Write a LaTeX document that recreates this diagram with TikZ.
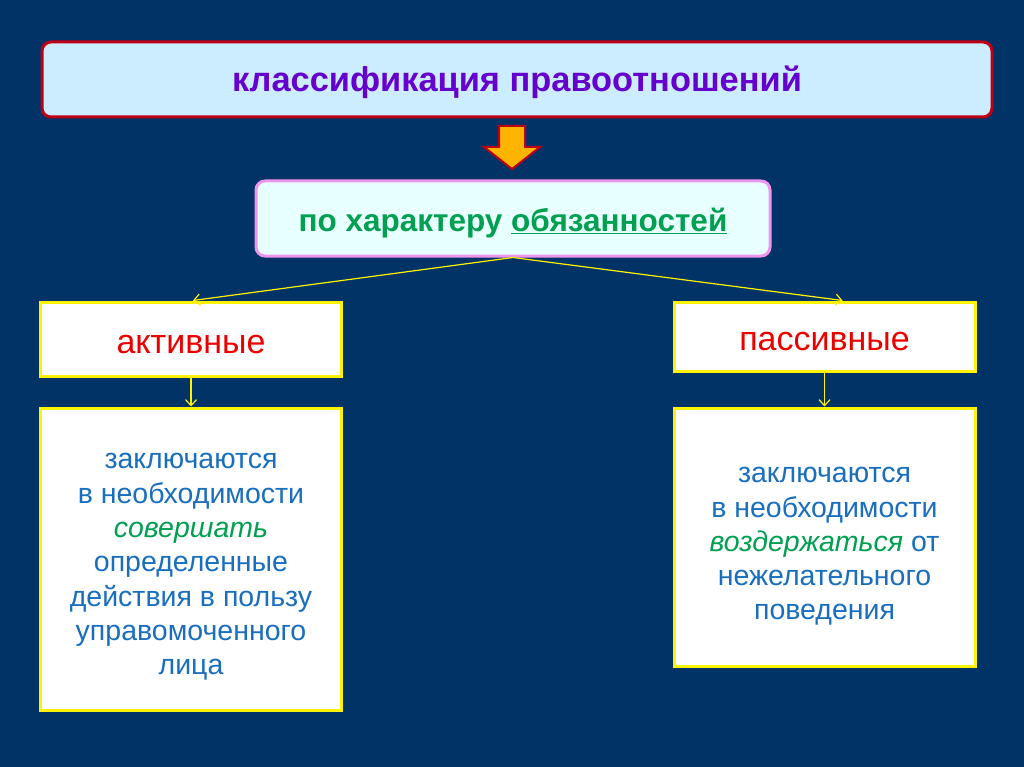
\documentclass[tikz,border=0pt]{standalone}
\usepackage{fontspec}
\setmainfont{Liberation Sans}
\usetikzlibrary{positioning, arrows.meta}

\definecolor{slidebg}{RGB}{2,51,102}
\definecolor{titlered}{RGB}{190,0,20}
\definecolor{titlefill}{RGB}{204,236,255}
\definecolor{titlepurple}{RGB}{102,0,204}
\definecolor{pinkline}{RGB}{238,150,238}
\definecolor{charfill}{RGB}{232,255,255}
\definecolor{textgreen}{RGB}{0,160,80}
\definecolor{textred}{RGB}{235,0,0}
\definecolor{textblue}{RGB}{25,110,190}
\definecolor{arroworange}{RGB}{255,180,0}

\begin{document}
\begin{tikzpicture}[x=1pt, y=-1pt, node distance=29pt, >={Straight Barb[length=6pt,width=11pt]},
        every node/.style={align=center, inner sep=0pt},
        titlebox/.style={draw=titlered, line width=3pt, fill=titlefill, rounded corners=9pt, minimum width=950pt, minimum height=75pt, text height=25pt, text depth=0pt, text=titlepurple, font=\fontsize{34.4}{42}\selectfont\bfseries},
        charbox/.style={draw=pinkline, line width=3pt, fill=charfill, rounded corners=9pt, minimum width=514pt, minimum height=75pt, text height=26pt, text depth=0pt, text=textgreen, font=\fontsize{31.5}{38}\selectfont\bfseries},
        kindbox/.style={draw=yellow, line width=3pt, fill=white, minimum width=301pt, text height=28pt, text depth=0pt, text=textred, font=\fontsize{34}{40}\selectfont},
        notebox/.style={draw=yellow, line width=3pt, fill=white, minimum width=301pt, text=textblue, font=\fontsize{28.5}{34.3}\selectfont},
        link/.style={draw=yellow, line width=1.2pt}]
        % background
        \fill[slidebg] (0,0) rectangle (1024,767);

        \node (title) [titlebox] at (517,79.5) {классификация правоотношений};
        \filldraw[draw=titlered, line width=2pt, fill=arroworange, line join=miter]
            (499,126) -- (525,126) -- (525,147) -- (540,147) -- (512,169) -- (484,147) -- (499,147) -- cycle;
        \node (char) [charbox] at (513,218.5) {по характеру \underline{обязанностей}};

        \node (act) [kindbox, minimum height=74pt] at (191,339) {активные};
        \node (pas) [kindbox, minimum height=69pt] at (824.5,336.5) {пассивные};

        \node (actnote) [notebox, minimum height=302pt, below=of act] {\begin{tabular}{@{}c@{}}
            \rule{0pt}{36pt}заключаются\\в необходимости\\{\color{textgreen}\itshape совершать}\\определенные\\действия в пользу\\управомоченного\\лица
        \end{tabular}};
        \node (pasnote) [notebox, minimum height=258pt, below=34pt of pas] {\begin{tabular}{@{}c@{}}
            \rule{0pt}{39pt}заключаются\\в необходимости\\{\color{textgreen}\itshape воздержаться} от\\нежелательного\\поведения
        \end{tabular}};

        \draw[->, link] (char.south) -- ([xshift=2pt]act.north);
        \draw[->, link] (char.south) -- ([xshift=18pt]pas.north);
        \draw[->, link] (act) -- (actnote);
        \draw[->, link] (pas) -- (pasnote);
    \end{tikzpicture}
\end{document}
